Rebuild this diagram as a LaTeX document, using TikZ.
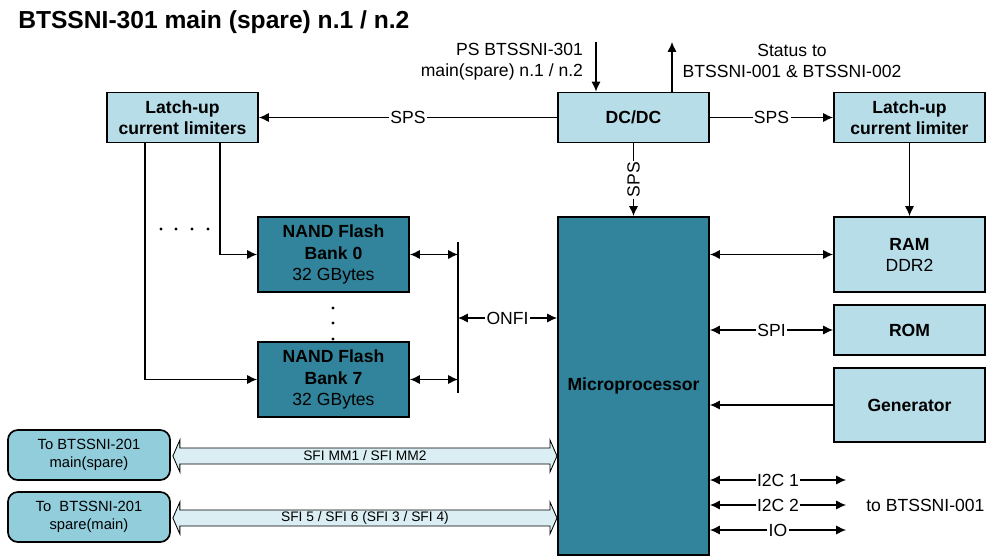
\documentclass[tikz,border=0pt]{standalone}
\usepackage{fontspec}
\setmainfont{Liberation Sans}
\usetikzlibrary{arrows.meta,calc,positioning}
\definecolor{boxblue}{HTML}{B7DDE8}
\definecolor{chipteal}{HTML}{31849B}
\definecolor{linkblue}{HTML}{92CDDC}
\definecolor{busfill}{HTML}{DAEEF3}
\newcommand{\basesize}{\fontsize{12.5}{15}\selectfont}
\newcommand{\smallsize}{\fontsize{10.5}{13}\selectfont}

\begin{document}
\begin{tikzpicture}[x=0.025cm, y=-0.025cm,
  every node/.style={font=\basesize},
  blk/.style={draw, line width=1.4pt, align=center, inner sep=2pt,
    minimum width=3.775cm, minimum height=1.25cm, font=\basesize\bfseries},
  pwr/.style={blk, fill=boxblue},
  chip/.style={blk, fill=chipteal},
  ext/.style={draw, line width=1.2pt, fill=linkblue, rounded corners=7pt, align=center,
    minimum width=4.05cm, minimum height=1.25cm, font=\smallsize},
  arr/.style={line width=0.8pt, -{Latex[length=7pt,width=6.5pt]}},
  dbl/.style={line width=0.8pt, {Latex[length=7pt,width=6.5pt]}-{Latex[length=7pt,width=6.5pt]}},
  lbl/.style={fill=white, inner sep=1pt},
  fat/.style={draw, line width=0.6pt, fill=busfill},
  sfi/.style={font=\fontsize{9.8}{12}\selectfont, inner sep=0pt}]
  \useasboundingbox (0,0) rectangle (987,559);
  \node[anchor=base west, inner sep=0pt, font=\fontsize{17.5}{20}\selectfont\bfseries] (title) at (18,28) {BTSSNI-301 main (spare) n.1 / n.2};
  % power row
  \node[pwr] (latchL) at (182.5,117.5) {Latch-up\\current limiters};
  \node[pwr] (dcdc) at (633.5,117.5) {DC/DC};
  \node[pwr] (latchR) at (909.5,117.5) {Latch-up\\current limiter};
  \node[anchor=east, align=right] (psLbl) at (588,62) {PS BTSSNI-301\\main(spare) n.1 / n.2};
  \node[align=center] (statusLbl) at (792,61) {Status to\\BTSSNI-001 \& BTSSNI-002};
  % processor and peripherals
  \node[chip, minimum height=8.45cm] (micro) at (633.5,386) {Microprocessor};
  \node[pwr, minimum height=1.875cm] (ram) at (909.5,254.5) {RAM\\\mdseries DDR2};
  \node[pwr] (rom) at (909.5,330) {ROM};
  \node[pwr, minimum height=1.85cm] (gen) at (909.5,405) {Generator};
  \node[chip, minimum height=1.875cm] (bank0) at (333.5,254.5) {NAND Flash\\Bank 0\\\mdseries 32 GBytes};
  \node[chip, minimum height=1.875cm] (bank7) at (333.5,379.5) {NAND Flash\\Bank 7\\\mdseries 32 GBytes};
  \node[ext] (toMain) at (89,455) {To BTSSNI-201\\main(spare)};
  \node[ext] (toSpare) at (89,517) {To~ BTSSNI-201\\spare(main)};
  \node[anchor=west, inner sep=0pt] (toNI) at (866,505) {to BTSSNI-001};
  % supply lines
  \coordinate (psIn) at (596,42);
  \coordinate (stOut) at (672,42);
  \draw[arr] (psIn) -- (psIn |- dcdc.north);
  \draw[arr] (stOut |- dcdc.north) -- (stOut);
  \draw[arr] (dcdc.west) -- node[lbl]{SPS} (latchL.east);
  \draw[arr] (dcdc.east) -- node[lbl]{SPS} (latchR.west);
  \draw[arr] (dcdc.south) -- node[lbl, rotate=90]{SPS} (micro.north);
  \draw[arr] (latchR.south) -- (ram.north);
  \draw[arr] ($(latchL.south)+(37.5,0)$) |- (bank0.west);
  \draw[arr] ($(latchL.south)+(-37.5,0)$) |- (bank7.west);
  % data lines
  \draw[dbl] (micro.east |- ram.west) -- (ram.west);
  \draw[dbl] (micro.east |- rom.west) -- node[lbl]{SPI} (rom.west);
  \draw[arr] (gen.west) -- (micro.east |- gen.west);
  \coordinate (i2cA) at (846,480);
  \coordinate (i2cB) at (846,505);
  \coordinate (ioEnd) at (846,530);
  \foreach \c/\t in {i2cA/I2C 1, i2cB/I2C 2, ioEnd/IO}
    \draw[dbl] (micro.east |- \c) -- node[lbl]{\t} (\c);
  % ONFI bus
  \coordinate (busTop) at (458,242);
  \coordinate (busBot) at (458,393);
  \coordinate (onfi) at (458,318);
  \draw[line width=0.8pt] (busTop) -- (busBot);
  \draw[dbl] (bank0.east) -- (bank0.east -| busTop);
  \draw[dbl] (bank7.east) -- (bank7.east -| busTop);
  \draw[dbl] (onfi) -- node[lbl]{ONFI} (onfi -| micro.west);
  \foreach \x in {161,176,192,208} \fill (\x,229) circle (1.1pt);
  \foreach \y in {308,323,339} \fill (333,\y) circle (1.1pt);
  % SFI links
  \foreach \src/\nm/\t in {toMain/sfiMM/{SFI MM1 / SFI MM2}, toSpare/sfiSP/{SFI 5 / SFI 6 (SFI 3 / SFI 4)}} {
    \path ($(\src.east)+(2,1)$) coordinate (fa) (fa -| micro.west) coordinate (fb);
    \draw[fat] (fa) -- ++(7,-16) -- ++(0,8) -- ($(fb)+(-7,-8)$) -- ++(0,-8) -- (fb)
      -- ++(-7,16) -- ++(0,-8) -- ($(fa)+(7,8)$) -- ++(0,8) -- cycle;
    \node[sfi] (\nm) at ($(fa)!0.5!(fb)$) {\t};
  }
\end{tikzpicture}
\end{document}
